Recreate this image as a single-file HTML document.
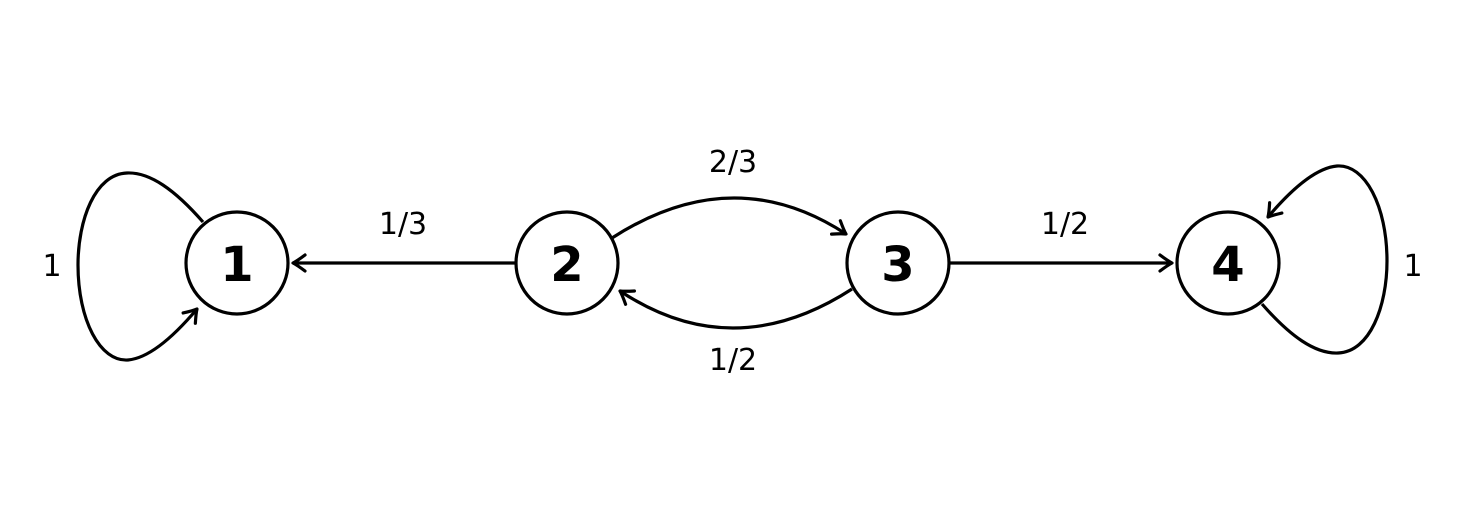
<!DOCTYPE html>
<html><head><meta charset="utf-8"><style>
html,body{margin:0;padding:0;background:#fff;}
svg text{font-family:"DejaVu Sans","Liberation Sans",sans-serif;fill:#000;}
</style></head><body>
<svg width="1460" height="524" viewBox="0 0 1460 524" xmlns="http://www.w3.org/2000/svg">
<defs>
<marker id="a" markerUnits="userSpaceOnUse" markerWidth="30" markerHeight="30" refX="0" refY="0" viewBox="-15 -15 30 30" orient="auto" overflow="visible">
<path d="M-12,-8 Q-4,-2 0,0 Q-4,2 -12,8" fill="none" stroke="#000" stroke-width="3.2" stroke-linecap="round" stroke-linejoin="round"/>
</marker>
</defs>
<g fill="none" stroke="#000" stroke-width="3.2">
<circle cx="237" cy="263" r="51"/>
<circle cx="567" cy="263" r="51"/>
<circle cx="898" cy="263" r="51"/>
<circle cx="1228" cy="263" r="51"/>
<path d="M203,222 C175,190 150,172 127,173 C95,174 78,220 78,265 C78,320 100,362 128,360 C150,358 175,335 197,309" marker-end="url(#a)"/>
<path d="M1262,304 C1290,336 1315,354 1338,353 C1370,352 1387,306 1387,261 C1387,206 1365,164 1337,166 C1315,168 1290,191 1268,217" marker-end="url(#a)"/>
<path d="M516,263 L293,263" marker-end="url(#a)"/>
<path d="M949,263 L1172,263" marker-end="url(#a)"/>
<path d="M612,238 Q733,160 846,234" marker-end="url(#a)"/>
<path d="M852,289 Q733,366 620,291" marker-end="url(#a)"/>
</g>
<g font-weight="bold" font-size="48" text-anchor="middle">
<text x="237" y="281">1</text>
<text x="567" y="281">2</text>
<text x="898" y="281">3</text>
<text x="1228" y="281">4</text>
</g>
<g font-size="30" text-anchor="middle">
<text x="403" y="234">1/3</text>
<text x="733" y="172">2/3</text>
<text x="733" y="370">1/2</text>
<text x="1065" y="234">1/2</text>
<text x="52" y="276">1</text>
<text x="1413" y="276">1</text>
</g>
</svg>
</body></html>
